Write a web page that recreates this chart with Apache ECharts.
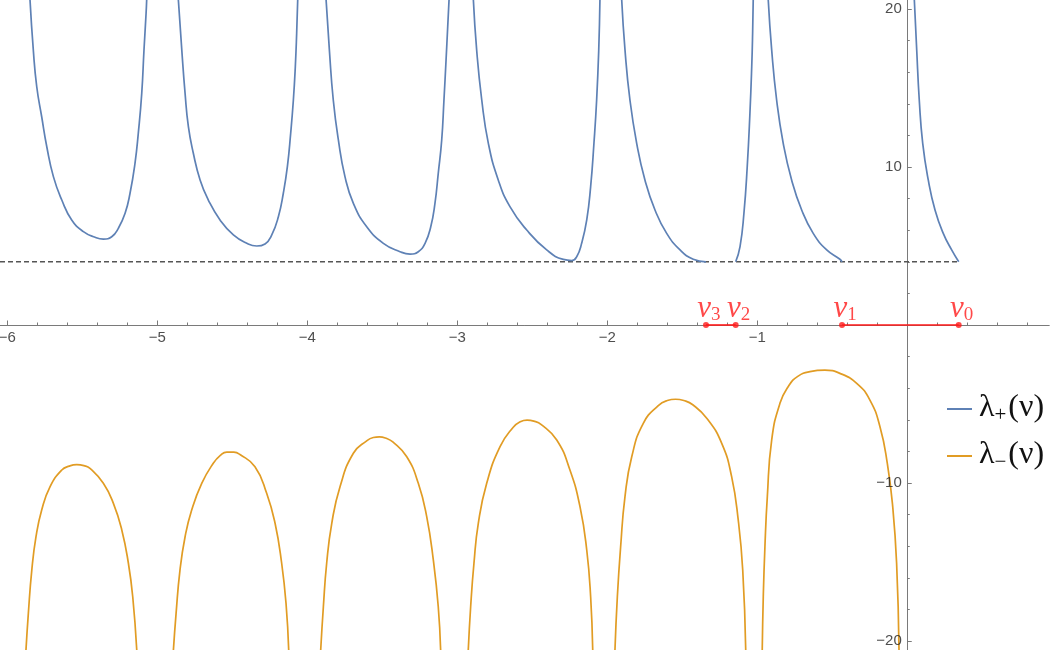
<!DOCTYPE html>
<html>
<head>
<meta charset="utf-8">
<script src="https://cdn.jsdelivr.net/npm/echarts@6/dist/echarts.min.js"></script>
<style>
html,body{margin:0;padding:0;background:#fff;}
#chart{width:1050px;height:650px;}
</style>
</head>
<body>
<div id="chart"></div>
<script>
// ---- axis ranges and tick labels ----
const xRange = [-6.049, 0.945];
const yRange = [-20.57, 20.57];
const xTickLabels = [-6, -5, -4, -3, -2, -1];
const yTickLabels = [-20, -10, 10, 20];
const thresholdY = 4;

// ---- nu points (on the axis) ----
const nuNames = ['0', '1', '2', '3'];
const nuValues = [0.343, -0.435, -1.144, -1.342];

// ---- lambda_plus branches ----
const lamPlus1 = [[-5.849,20.6],[-5.827,17.41],[-5.804,15.08],[-5.771,13.18],[-5.737,11.28],[-5.693,9.39],[-5.637,7.91],[-5.571,6.65],[-5.493,5.91],[-5.415,5.55],[-5.360,5.44],[-5.304,5.59],[-5.260,6.12],[-5.215,7.07],[-5.182,8.34],[-5.149,10.23],[-5.127,12.13],[-5.104,14.66],[-5.089,17.41],[-5.075,19.73],[-5.071,20.6]];
const lamPlus2 = [[-4.860,20.6],[-4.837,17.41],[-4.815,14.66],[-4.793,12.55],[-4.760,10.87],[-4.715,9.18],[-4.660,7.91],[-4.582,6.65],[-4.493,5.70],[-4.404,5.17],[-4.337,5.0],[-4.282,5.13],[-4.237,5.70],[-4.193,6.85],[-4.160,8.34],[-4.133,10.02],[-4.111,12.13],[-4.093,14.24],[-4.080,16.35],[-4.071,18.46],[-4.064,20.6]];
const lamPlus3 = [[-3.875,20.6],[-3.853,17.41],[-3.827,14.24],[-3.793,11.71],[-3.749,9.39],[-3.693,7.70],[-3.604,6.22],[-3.493,5.17],[-3.382,4.64],[-3.315,4.49],[-3.260,4.64],[-3.215,5.17],[-3.177,6.22],[-3.149,7.70],[-3.127,9.60],[-3.104,11.71],[-3.089,14.24],[-3.075,16.77],[-3.064,18.88],[-3.055,20.6]];
const lamPlus4 = [[-2.893,20.6],[-2.871,17.41],[-2.837,14.24],[-2.793,11.50],[-2.727,9.18],[-2.649,7.49],[-2.537,6.01],[-2.404,4.75],[-2.293,4.15],[-2.237,4.08],[-2.204,4.32],[-2.171,5.17],[-2.137,6.65],[-2.111,8.76],[-2.089,11.50],[-2.071,14.24],[-2.057,17.41],[-2.049,20.6]];
const lamPlus5 = [[-1.904,20.6],[-1.882,17.41],[-1.849,14.24],[-1.804,11.50],[-1.749,9.18],[-1.682,7.28],[-1.604,5.80],[-1.515,4.75],[-1.427,4.16],[-1.342,4.0]];
const lamPlus6 = [[-1.144,4.0],[-1.115,4.96],[-1.089,7.07],[-1.067,10.02],[-1.049,13.40],[-1.037,16.35],[-1.031,18.46],[-1.027,20.6]];
const lamPlus7 = [[-0.927,20.6],[-0.904,17.41],[-0.871,14.24],[-0.827,11.50],[-0.771,9.18],[-0.704,7.28],[-0.627,5.80],[-0.537,4.75],[-0.449,4.16],[-0.435,4.0]];
const lamPlus8 = [[0.047,20.6],[0.063,17.41],[0.080,14.24],[0.103,11.50],[0.140,9.18],[0.185,7.28],[0.240,5.80],[0.296,4.75],[0.343,4.0]];

// ---- lambda_minus branches ----
const lamMinus1 = [[-5.876,-20.6],[-5.860,-18.25],[-5.837,-15.51],[-5.809,-13.40],[-5.771,-11.71],[-5.715,-10.23],[-5.637,-9.18],[-5.587,-8.93],[-5.537,-8.84],[-5.490,-8.90],[-5.449,-9.07],[-5.360,-10.02],[-5.293,-11.29],[-5.237,-12.97],[-5.193,-15.08],[-5.164,-17.20],[-5.137,-20.6]];
const lamMinus2 = [[-4.893,-20.6],[-4.875,-18.25],[-4.849,-15.51],[-4.815,-13.40],[-4.771,-11.71],[-4.704,-10.02],[-4.627,-8.75],[-4.580,-8.25],[-4.537,-8.04],[-4.490,-8.05],[-4.449,-8.20],[-4.349,-8.97],[-4.271,-10.65],[-4.215,-12.55],[-4.171,-15.08],[-4.142,-17.61],[-4.124,-20.6]];
const lamMinus3 = [[-3.911,-20.6],[-3.893,-17.83],[-3.871,-15.08],[-3.837,-12.55],[-3.782,-10.23],[-3.693,-8.12],[-3.604,-7.33],[-3.560,-7.12],[-3.520,-7.08],[-3.480,-7.15],[-3.430,-7.40],[-3.337,-8.34],[-3.260,-10.02],[-3.204,-12.13],[-3.160,-14.87],[-3.127,-17.83],[-3.111,-20.6]];
const lamMinus4 = [[-2.927,-20.6],[-2.911,-17.83],[-2.889,-15.08],[-2.860,-12.55],[-2.804,-10.02],[-2.715,-7.70],[-2.627,-6.47],[-2.580,-6.12],[-2.535,-6.02],[-2.490,-6.08],[-2.440,-6.30],[-2.337,-7.28],[-2.249,-9.18],[-2.182,-11.50],[-2.137,-14.24],[-2.111,-17.20],[-2.097,-20.6]];
const lamMinus5 = [[-1.949,-20.6],[-1.933,-17.20],[-1.911,-14.03],[-1.882,-10.86],[-1.837,-8.34],[-1.760,-6.22],[-1.660,-5.10],[-1.600,-4.78],[-1.545,-4.70],[-1.490,-4.78],[-1.430,-5.05],[-1.337,-5.90],[-1.237,-7.49],[-1.171,-9.60],[-1.127,-12.34],[-1.097,-15.51],[-1.077,-20.6]];
const lamMinus6 = [[-0.967,-20.6],[-0.960,-17.20],[-0.949,-14.03],[-0.933,-10.86],[-0.904,-7.28],[-0.849,-4.96],[-0.790,-3.85],[-0.730,-3.25],[-0.649,-2.95],[-0.549,-2.86],[-0.449,-3.06],[-0.337,-3.69],[-0.249,-4.75],[-0.182,-6.44],[-0.133,-8.76],[-0.097,-11.50],[-0.071,-15.08],[-0.055,-20.6]];

const BLUE = '#5E81B5', ORANGE = '#E19C24', RED = '#FF1A1A', AXIS = '#7a7a7a';

const lamPlus = [lamPlus1, lamPlus2, lamPlus3, lamPlus4, lamPlus5, lamPlus6, lamPlus7, lamPlus8];
const lamMinus = [lamMinus1, lamMinus2, lamMinus3, lamMinus4, lamMinus5, lamMinus6];

// tick positions: minor ticks every 0.2 (x) / 2 (y)
const xMinor = [];
for (let i = -30; i <= 4; i++) { if (i % 5 !== 0) xMinor.push(Math.round(i * 2) / 10); }
const yMinor = [];
for (let i = -10; i <= 10; i++) { if (i % 5 !== 0) yMinor.push(i * 2); }

const fmtMinus = v => (v < 0 ? '\u2212' + Math.abs(v) : String(v));
const SANS = 'Liberation Sans, Arial, sans-serif';
const SERIF = 'Liberation Serif, Times New Roman, serif';

const series = [];
lamPlus.forEach(b => series.push({
  name: 'lp', type: 'line', data: b,
  symbol: 'none', smooth: 0.5, clip: true,
  lineStyle: { color: BLUE, width: 1.7 }, itemStyle: { color: BLUE }, z: 3
}));
lamMinus.forEach(b => series.push({
  name: 'lm', type: 'line', data: b,
  symbol: 'none', smooth: 0.5, clip: true,
  lineStyle: { color: ORANGE, width: 1.7 }, itemStyle: { color: ORANGE }, z: 3
}));
// dashed threshold line
series.push({
  name: 'thr', type: 'line', data: [[xRange[0], thresholdY], [nuValues[0], thresholdY]],
  symbol: 'none', lineStyle: { color: '#555', width: 1.4, type: [5, 3] }, z: 2, silent: true
});
// red segments nu3-nu2 and nu1-nu0
series.push({
  name: 'seg1', type: 'line', data: [[nuValues[3], 0], [nuValues[2], 0]],
  symbol: 'none', lineStyle: { color: RED, width: 1.6 }, z: 4, silent: true
});
series.push({
  name: 'seg2', type: 'line', data: [[nuValues[1], 0], [nuValues[0], 0]],
  symbol: 'none', lineStyle: { color: RED, width: 1.6 }, z: 4, silent: true
});
// red points with labels
series.push({
  name: 'nu', type: 'scatter', symbolSize: 6, z: 5, silent: true,
  itemStyle: { color: RED },
  data: nuValues.map((v, i) => ({ value: [v, 0], label: { formatter: '{v|\u03bd}{s|' + nuNames[i] + '}' } })),
  label: {
    show: true, position: 'top', distance: -3, offset: [3, 0],
    rich: {
      v: { fontFamily: SERIF, fontStyle: 'italic', fontSize: 31, color: RED, lineHeight: 32, verticalAlign: 'top' },
      s: { fontFamily: SERIF, fontSize: 19, color: RED, lineHeight: 32, verticalAlign: 'bottom' }
    }
  }
});
// tick labels of the axes crossing at the origin (placed through the axis scales)
series.push({
  name: 'xlab', type: 'scatter', symbol: 'circle', symbolSize: 1, silent: true, z: 6,
  itemStyle: { color: 'rgba(0,0,0,0)' },
  data: xTickLabels.map(v => [v, 0]),
  label: { show: true, position: 'bottom', distance: 5, formatter: p => fmtMinus(p.value[0]),
           fontFamily: SANS, fontSize: 15, color: '#222' }
});
series.push({
  name: 'ylab', type: 'scatter', symbol: 'circle', symbolSize: 1, silent: true, z: 6,
  itemStyle: { color: 'rgba(0,0,0,0)' },
  data: yTickLabels.map(v => [0, v]),
  label: { show: true, position: 'left', distance: 5, formatter: p => fmtMinus(p.value[1]),
           fontFamily: SANS, fontSize: 15, color: '#222' }
});

const chart = echarts.init(document.getElementById('chart'), null, { renderer: 'canvas' });
chart.setOption({
  animation: false,
  backgroundColor: '#fff',
  grid: { left: 0, right: 1, top: 0, bottom: 0, containLabel: false, outerBoundsMode: 'none' },
  legend: {
    orient: 'vertical', left: 942, top: 387, itemGap: 13,
    itemWidth: 25, itemHeight: 2, icon: 'rect',
    data: [{ name: 'lp', itemStyle: { color: BLUE } }, { name: 'lm', itemStyle: { color: ORANGE } }],
    formatter: n => n === 'lp' ? '{l|\u03bb}{s|+}{l|(\u03bd)}' : '{l|\u03bb}{s|\u2212}{l|(\u03bd)}',
    textStyle: {
      rich: {
        l: { fontFamily: SERIF, fontSize: 32, color: '#111', lineHeight: 34, verticalAlign: 'top', padding: [0, 0, 0, 2] },
        s: { fontFamily: SERIF, fontSize: 21, color: '#111', lineHeight: 34, verticalAlign: 'bottom' }
      }
    }
  },
  xAxis: [
    {
      type: 'value', min: xRange[0], max: xRange[1],
      axisLine: { show: true, onZero: true, onZeroAxisIndex: 0, lineStyle: { color: AXIS, width: 1 } },
      axisTick: { show: true, inside: true, length: 4.5, customValues: xTickLabels, lineStyle: { color: AXIS } },
      axisLabel: { show: false },
      splitLine: { show: false }
    },
    {
      type: 'value', min: xRange[0], max: xRange[1], position: 'bottom',
      axisLine: { show: true, onZero: true, onZeroAxisIndex: 0, lineStyle: { color: AXIS, width: 1 } },
      axisTick: { show: true, inside: true, length: 2.5, customValues: xMinor, lineStyle: { color: AXIS } },
      axisLabel: { show: false },
      splitLine: { show: false }
    }
  ],
  yAxis: [
    {
      type: 'value', min: yRange[0], max: yRange[1],
      axisLine: { show: true, onZero: true, onZeroAxisIndex: 0, lineStyle: { color: AXIS, width: 1 } },
      axisTick: { show: true, inside: true, length: 4.5, customValues: yTickLabels, lineStyle: { color: AXIS } },
      axisLabel: { show: false },
      splitLine: { show: false }
    },
    {
      type: 'value', min: yRange[0], max: yRange[1], position: 'left',
      axisLine: { show: true, onZero: true, onZeroAxisIndex: 0, lineStyle: { color: AXIS, width: 1 } },
      axisTick: { show: true, inside: true, length: 2.5, customValues: yMinor, lineStyle: { color: AXIS } },
      axisLabel: { show: false },
      splitLine: { show: false }
    }
  ],
  series: series
});
</script>
</body>
</html>
